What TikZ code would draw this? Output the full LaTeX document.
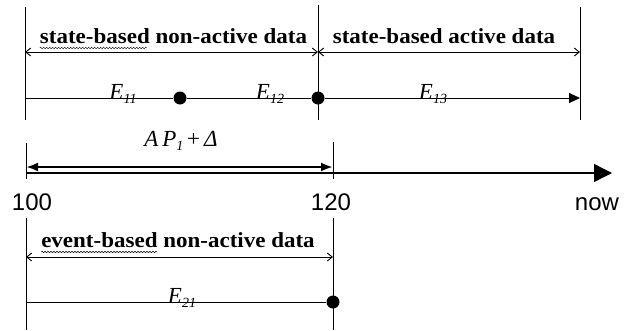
\documentclass[tikz,border=0pt]{standalone}
\usepackage{graphicx}
\usepackage{fontspec}
\setmainfont{Liberation Serif}
\newfontfamily\arialf{Liberation Sans}
\usetikzlibrary{arrows.meta,calc,decorations.pathmorphing}
\newcommand{\hx}[1]{\scalebox{1.07}[1]{#1}}
\newcommand{\Esub}[1]{\textit{E}\raisebox{-4pt}{\fontsize{14}{14}\selectfont\textit{#1}}}
\begin{document}
\begin{tikzpicture}[x=1pt,y=-1pt,
  vline/.style={line width=0.9pt},
  rangearr/.style={line width=0.9pt,{Straight Barb[length=5pt,width=8pt]}-{Straight Barb[length=5pt,width=8pt]}},
  evline/.style={line width=1pt},
  dotn/.style={circle,fill=black,inner sep=0pt,minimum size=13pt},
  hdr/.style={anchor=base,inner sep=0pt,font=\fontsize{21.5}{24}\selectfont\bfseries},
  elbl/.style={anchor=base,inner sep=0pt,font=\fontsize{23}{26}\selectfont},
  num/.style={anchor=base,inner sep=0pt,font=\fontsize{24}{28}\selectfont\arialf},
  squig/.style={decorate,decoration={snake,amplitude=0.8pt,segment length=3pt},line width=0.4pt}
]
\useasboundingbox (0,0) rectangle (630,330);

% ---- top band: state-based data ----
\coordinate (L1t) at (25,7);   \coordinate (L1b) at (25,120);
\coordinate (M1t) at (318,5);  \coordinate (M1b) at (318,120);
\coordinate (R1t) at (580,7);  \coordinate (R1b) at (580,120);
\draw[vline] (L1t) -- (L1b);
\draw[vline] (M1t) -- (M1b);
\draw[vline] (R1t) -- (R1b);

\coordinate (A1l) at (25,52); \coordinate (A1m) at (318,52); \coordinate (A1r) at (580,52);
\draw[rangearr] (A1l) -- (A1m);
\draw[rangearr] (A1m) -- (A1r);

\node[hdr] (h1) at (173.5,43) {\hx{state-based non-active data}};
\node[hdr] (h2) at (444,43) {\hx{state-based active data}};
\draw[squig] ($(h1.base west)+(0,5)$) -- ($(h1.base west)+(107,5)$);

\coordinate (E1s) at (25,98);
\node[dotn] (d1) at (180,98) {};
\node[dotn] (d2) at (318,98) {};
\coordinate (E1e) at (580,98);
\draw[evline] (E1s) -- (d1);
\draw[evline] (d1) -- (d2);
\draw[evline,-{Triangle[length=11pt,width=10pt]}] (d2) -- (E1e);

\node[elbl] (e11) at (123,99) {\Esub{11}};
\node[elbl] (e12) at (270,99) {\Esub{12}};
\node[elbl] (e13) at (433,99) {\Esub{13}};

% ---- middle band: time axis ----
\coordinate (L2t) at (26,143); \coordinate (L2b) at (26,179);
\coordinate (M2t) at (333,142); \coordinate (M2b) at (333,179);
\draw[vline] (L2t) -- (L2b);
\draw[vline] (M2t) -- (M2b);

\coordinate (AP1) at (26,167); \coordinate (AP2) at (333,167);
\draw[line width=2.5pt,{Latex[length=12pt,width=9pt]}-{Latex[length=12pt,width=9pt]}] (AP1) -- (AP2);
\node[elbl] (ap) at (181,146) {\textit{A\,P}\raisebox{-4pt}{\fontsize{14}{14}\selectfont\textit{1}}\,+\,\textit{Δ}};

\coordinate (T0) at (26,173); \coordinate (Tn) at (612,173);
\draw[line width=1.3pt,-{Triangle[length=18pt,width=18pt]}] (T0) -- (Tn);

\node[num] (n100) at (32,210) {100};
\node[num] (n120) at (331,210) {120};
\node[num] (nnow) at (597,210) {now};

% ---- bottom band: event-based data ----
\coordinate (L3t) at (26,218); \coordinate (L3b) at (26,330);
\coordinate (M3t) at (333,218); \coordinate (M3b) at (333,330);
\draw[vline] (L3t) -- (L3b);
\draw[vline] (M3t) -- (M3b);

\coordinate (A3l) at (26,257); \coordinate (A3r) at (333,257);
\draw[rangearr] (A3l) -- (A3r);
\node[hdr] (h3) at (178,247) {\hx{event-based non-active data}};
\draw[squig] ($(h3.base west)+(0,5)$) -- ($(h3.base west)+(116,5)$);

\coordinate (E2s) at (26,302);
\node[dotn] (d3) at (333,302) {};
\draw[evline] (E2s) -- (d3);
\node[elbl] (e21) at (182,303) {\Esub{21}};
\end{tikzpicture}
\end{document}
